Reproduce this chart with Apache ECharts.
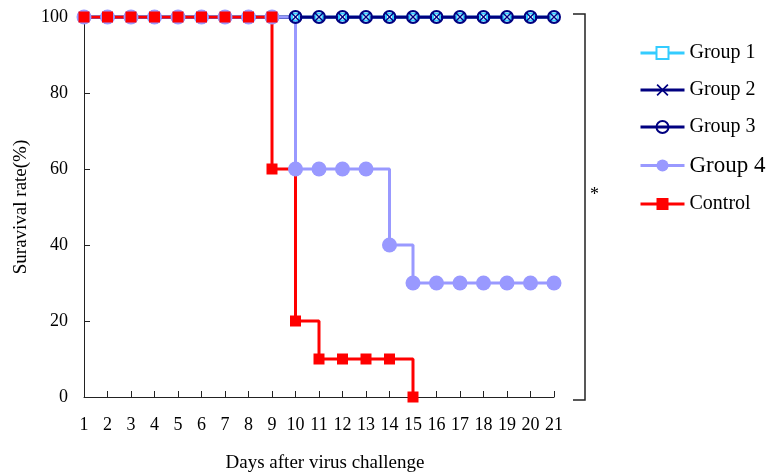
<!DOCTYPE html>
<html>
<head>
<meta charset="utf-8">
<script src="https://cdn.jsdelivr.net/npm/echarts@6/dist/echarts.min.js"></script>
<style>html,body{margin:0;padding:0;background:#fff}#c{width:767px;height:472px}</style>
</head>
<body>
<div id="c"></div>
<script>
const days = [1,2,3,4,5,6,7,8,9,10,11,12,13,14,15,16,17,18,19,20,21];
const group1 = [100,100,100,100,100,100,100,100,100,100,100,100,100,100,100,100,100,100,100,100,100];
const group2 = [100,100,100,100,100,100,100,100,100,100,100,100,100,100,100,100,100,100,100,100,100];
const group3 = [100,100,100,100,100,100,100,100,100,100,100,100,100,100,100,100,100,100,100,100,100];
const group4 = [100,100,100,100,100,100,100,100,100,60,60,60,60,40,30,30,30,30,30,30,30];
const controlDays = [1,2,3,4,5,6,7,8,9,9,10,11,12,13,14,15];
const controlValues = [100,100,100,100,100,100,100,100,100,60,20,10,10,10,10,0];
const yTicks = [0,20,40,60,80,100];
const seriesNames = ['Group 1','Group 2','Group 3','Group 4','Control'];

const pairs = (xs, ys) => xs.map((x, i) => [x, ys[i]]);
const FONT = '"Liberation Serif", "Times New Roman", serif';
const XPATH = 'path://M0,1 L1,0 L5,4 L9,0 L10,1 L6,5 L10,9 L9,10 L5,6 L1,10 L0,9 L4,5 Z';
const AXIS = '#222';

const chart = echarts.init(document.getElementById('c'), null, {renderer: 'canvas'});
chart.setOption({
  animation: false,
  backgroundColor: '#fff',
  textStyle: {fontFamily: FONT},
  grid: {left: 84, right: 213, top: 17, bottom: 75, outerBoundsMode: 'none', containLabel: false},
  legend: {
    orient: 'vertical', left: 634, top: 38, padding: 5,
    itemWidth: 44, itemHeight: 15, itemGap: 17,
    lineStyle: {width: 3},
    data: seriesNames,
    formatter: n => '{' + (n === 'Group 4' ? 'b' : 'a') + '|' + n + '}',
    textStyle: {
      fontFamily: FONT, fontSize: 20, color: '#000',
      rich: {
        a: {fontFamily: FONT, fontSize: 20, height: 20, color: '#000'},
        b: {fontFamily: FONT, fontSize: 23, height: 20, color: '#000'}
      }
    }
  },
  xAxis: {
    type: 'value', min: 1, max: 21, interval: 1,
    name: 'Days after virus challenge', nameLocation: 'middle', nameGap: 57,
    nameTextStyle: {fontFamily: FONT, fontSize: 19, color: '#000', padding: [0, 0, 0, 12]},
    axisLine: {lineStyle: {color: AXIS, width: 1}},
    axisTick: {inside: true, length: 6, lineStyle: {color: AXIS}},
    axisLabel: {fontFamily: FONT, fontSize: 18, color: '#000', margin: 19},
    splitLine: {show: false}
  },
  yAxis: {
    type: 'value', min: yTicks[0], max: yTicks[yTicks.length - 1], interval: 20,
    name: 'Suravival rate(%)', nameLocation: 'middle', nameGap: 53,
    nameTextStyle: {fontFamily: FONT, fontSize: 19, color: '#000'},
    axisLine: {show: true, lineStyle: {color: AXIS, width: 1}},
    axisTick: {show: true, inside: true, length: 6, lineStyle: {color: AXIS}},
    axisLabel: {fontFamily: FONT, fontSize: 18, color: '#000', margin: 16},
    splitLine: {show: false}
  },
  series: [
    {name: 'Group 1', type: 'line', step: 'end', data: pairs(days, group1),
     symbol: 'emptyRect', symbolSize: 7, color: '#33CCFF',
     lineStyle: {width: 3, color: '#33CCFF'}, itemStyle: {color: '#33CCFF', borderWidth: 1.5}},
    {name: 'Group 2', type: 'line', step: 'end', data: pairs(days, group2),
     symbol: XPATH, symbolSize: 10, color: '#000080',
     lineStyle: {width: 3, color: '#000080'}, itemStyle: {color: '#000080'}},
    {name: 'Group 3', type: 'line', step: 'end', data: pairs(days, group3),
     symbol: 'circle', symbolSize: 12, color: '#000080',
     lineStyle: {width: 3, color: '#000080'},
     itemStyle: {color: 'rgba(255,255,255,0)', borderColor: '#000080', borderWidth: 2}},
    {name: 'Group 4', type: 'line', step: 'end', data: pairs(days, group4),
     symbol: 'circle', symbolSize: 15, color: '#9999FF',
     lineStyle: {width: 3, color: '#9999FF'}, itemStyle: {color: '#9999FF'}},
    {name: 'Control', type: 'line', step: 'end', data: pairs(controlDays, controlValues),
     symbol: 'rect', symbolSize: 11, color: '#FF0000',
     lineStyle: {width: 3, color: '#FF0000'}, itemStyle: {color: '#FF0000'}}
  ],
  graphic: [
    {type: 'polyline', shape: {points: [[573, 14], [585, 14], [585, 400], [573, 400]]},
     style: {stroke: AXIS, lineWidth: 1.5, fill: null}},
    {type: 'text', left: 590, top: 186,
     style: {text: '*', font: '18px ' + FONT, fill: '#000'}}
  ]
});
</script>
</body>
</html>
